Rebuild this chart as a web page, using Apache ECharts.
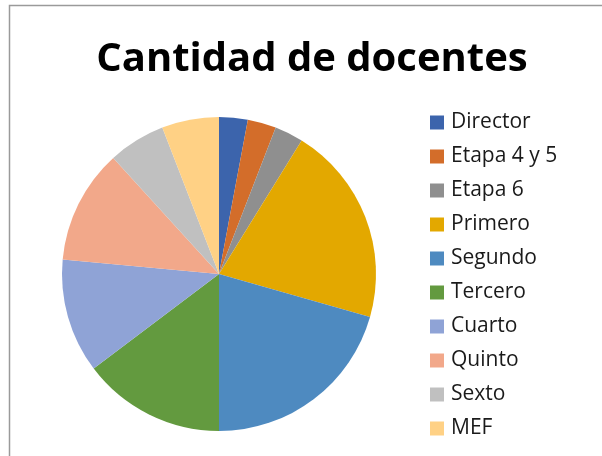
<!DOCTYPE html>
<html>
<head>
<meta charset="utf-8">
<script src="https://cdn.jsdelivr.net/npm/echarts@6/dist/echarts.min.js"></script>
<style>
  html, body { margin: 0; padding: 0; background: #fff; }
  #chart { width: 602px; height: 456px; }
</style>
</head>
<body>
<div id="chart"></div>
<script>
// datos
var categorias = ['Director', 'Etapa 4 y 5', 'Etapa 6', 'Primero', 'Segundo', 'Tercero', 'Cuarto', 'Quinto', 'Sexto', 'MEF'];
var docentes = [1, 1, 1, 7, 7, 5, 4, 4, 2, 2];
var colores = ['#3C64AC', '#D36D2A', '#8F8F8F', '#E3A800', '#4E8AC0', '#639A3F', '#8FA3D6', '#F2A88A', '#C0C0C0', '#FFD185'];

var myChart = echarts.init(document.getElementById('chart'));

var option = {
  animation: false,
  color: colores,
  title: {
    text: 'Cantidad de docentes',
    left: 312,
    top: 40,
    padding: 0,
    textAlign: 'center',
    textStyle: {
      fontFamily: 'Open Sans',
      fontWeight: 'bold',
      fontSize: 40,
      color: '#000'
    }
  },
  graphic: [{
    type: 'polyline',
    shape: { points: [[9.5, 460], [9.5, 5.5], [605, 5.5]] },
    style: { stroke: '#9a9a9a', lineWidth: 1.5, fill: null }
  }],
  legend: {
    orient: 'vertical',
    left: 430,
    top: 112,
    padding: 0,
    itemWidth: 14,
    itemHeight: 14,
    itemGap: 13,
    icon: 'rect',
    textStyle: {
      fontFamily: 'Open Sans',
      fontSize: 21,
      lineHeight: 21,
      color: '#1a1a1a',
      padding: [0, 0, 0, 2]
    },
    data: categorias
  },
  series: [{
    type: 'pie',
    center: [219, 274],
    radius: 157,
    startAngle: 90,
    clockwise: true,
    label: { show: false },
    labelLine: { show: false },
    itemStyle: { borderWidth: 0 },
    data: categorias.map(function(name, i) {
      return { name: name, value: docentes[i] };
    })
  }]
};

myChart.setOption(option);
</script>
</body>
</html>
